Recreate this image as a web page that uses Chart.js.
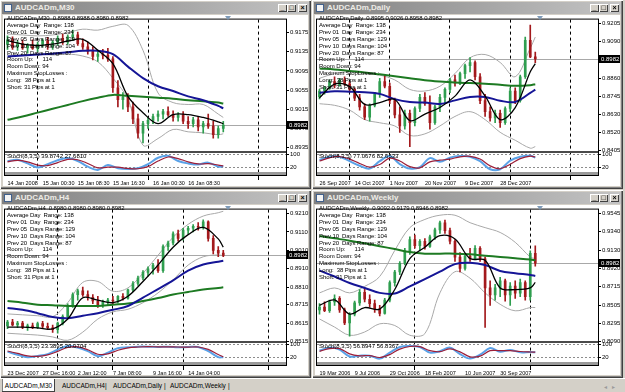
<!DOCTYPE html>
<html>
<head>
<meta charset="utf-8">
<script src="https://cdn.jsdelivr.net/npm/chart.js@4.4.1/dist/chart.umd.min.js"></script>
<style>
  html, body { margin: 0; padding: 0; }
  body { width: 625px; height: 392px; background: #d4d0c8; position: relative; overflow: hidden;
         font-family: "Liberation Sans", Arial, sans-serif; }
  .win { position: absolute; background: #d4d0c8;
         box-shadow: inset 1px 1px #ffffff, inset -1px -1px #404040, inset -2px -2px #808080; }
  .client { position: absolute; left: 3px; right: 3px; top: 15px; bottom: 3px; background: #fff; }
  .title { position: absolute; left: 2px; right: 2px; top: 2px; height: 12px; box-sizing: border-box;
           background: linear-gradient(to right, #808080, #c4c4c4); color: #eeece6;
           font-weight: bold; font-size: 8px; line-height: 12px; padding-left: 13px; }
  .ico { position: absolute; left: 2px; top: 2px; width: 8px; height: 8px; box-sizing: border-box;
         background: #f4f4f4; border: 1px solid #40608c; }
  .btns { position: absolute; right: 2px; top: 2px; display: flex; }
  .btns i { display: block; width: 9px; height: 8px; background: #d4d0c8; font-style: normal; color: #000;
            box-shadow: inset 1px 1px #fff, inset -1px -1px #404040; font-size: 7px; line-height: 8px;
            text-align: center; font-weight: bold; }
  .btns i:last-child { margin-left: 2px; }
  canvas { position: absolute; left: 0; top: 15px; }
  .info { position: absolute; left: 7px; top: 15px; font-size: 6px; line-height: 6.9px; white-space: pre;
          color: #000; letter-spacing: -0.1px; }
  .stl { position: absolute; left: 7px; top: 153px; font-size: 6px; line-height: 6px; white-space: pre; color: #000; }
  .mark { position: absolute; left: 225px; top: 16px; width: 0; height: 0;
          border-left: 3px solid transparent; border-right: 3px solid transparent; border-top: 4px solid #7f9bb8; }
  #tabs { position: absolute; left: 0; top: 378px; width: 625px; height: 14px; background: #d4d0c8;
          border-top: 1px solid #ffffff; font-size: 6.5px; color: #000; }
  #tabs span { position: absolute; top: 0; line-height: 13px; white-space: pre; }
  #tabs .on { background: #fff; box-shadow: inset -1px -1px #404040, inset 1px 0 #808080; text-align: center; }
  #arrows { position: absolute; left: 604px; top: 383px; font-size: 6px; color: #9a9a9a; letter-spacing: 5px; }
</style>
</head>
<body>
<div id="desk"></div>
<div id="tabs">
  <span class="on" style="left:2px;width:53px">AUDCADm,M30</span>
  <span style="left:62px">AUDCADm,H4</span>
  <span style="left:105px">|</span>
  <span style="left:113px">AUDCADm,Daily</span>
  <span style="left:164px">|</span>
  <span style="left:170px">AUDCADm,Weekly</span>
  <span style="left:228px">|</span>
</div>
<div id="arrows">◂▸</div>
<script>
// ---- shared layout of the bars ----
const SLOTS = 56;                 // bar slots across the chart (last ones stay empty)
const lineAt = [0,3,6,9,12,15,18,21,24,27,30,33,36,39,42,43];
const stochAt = [0,2,4,6,8,10,12,14,16,18,20,22,24,26,28,30,32,34,36,38,40,42,43];
const timeAt = [0,7,14,21,29,36];
const stochLevels = [100, 20];
const lastPrice = 0.8982;

const infoLines = [
  'Average Day  Range: 138',
  'Prev 01  Day  Range: 234',
  'Prev 05  Days Range: 129',
  'Prev 10  Days Range: 104',
  'Prev 20  Days Range: 87',
  'Room Up:      114',
  'Room Down: 94',
  'Maximum StopLosses :',
  'Long:  38 Pips at 1',
  'Short: 31 Pips at 1'
];

// ---- M30 ----
const m30Open = [.9150,.9160,.9145,.9152,.9143,.9148,.9142,.9150,.9158,.9146,.9155,
  .9163,.9155,.9166,.9170,.9152,.9145,.9136,.9125,.9130,.9128,.9120,
  .9060,.9035,.9040,.9020,.8995,.8965,.8985,.8992,.9000,.9005,.9010,
  .9004,.8998,.9003,.8990,.8985,.8993,.8978,.8985,.8980,.8962,.8975];
const m30High = [.9168,.9166,.9158,.9160,.9152,.9160,.9155,.9162,.9165,.9158,.9168,
  .9172,.9170,.9180,.9176,.9162,.9155,.9145,.9138,.9140,.9142,.9125,
  .9075,.9050,.9048,.9030,.9005,.8990,.8998,.9005,.9012,.9015,.9020,
  .9012,.9008,.9010,.9000,.8998,.9000,.8990,.9005,.8990,.8980,.8990];
const m30Low = [.9140,.9140,.9138,.9140,.9132,.9140,.9135,.9145,.9140,.9140,.9148,
  .9150,.9150,.9158,.9148,.9140,.9130,.9118,.9115,.9120,.9115,.9050,
  .9020,.9015,.9010,.8985,.8955,.8945,.8975,.8985,.8990,.8995,.9000,
  .8990,.8990,.8985,.8975,.8978,.8970,.8965,.8975,.8955,.8955,.8968];
const m30Close = [.9160,.9145,.9152,.9143,.9148,.9142,.9150,.9158,.9146,.9155,.9163,
  .9155,.9166,.9170,.9152,.9145,.9136,.9125,.9130,.9128,.9120,.9060,
  .9035,.9040,.9020,.8995,.8965,.8985,.8992,.9000,.9005,.9010,.9004,
  .8998,.9003,.8990,.8985,.8993,.8978,.8985,.8980,.8962,.8975,.8982];
const m30Fast = [.9158,.9151,.9148,.9151,.9157,.9161,.9138,.9110,.9042,.9008,.8985,.9004,.9004,.8998,.8989,.8985];
const m30Mid = [.9125,.9127,.9129,.9131,.9134,.9137,.9137,.9130,.9104,.9080,.9063,.9053,.9042,.9034,.9022,.9017];
const m30Slow = [.8993,.9000,.9008,.9016,.9024,.9032,.9039,.9045,.9043,.9041,.9039,.9037,.9034,.9032,.9029,.9027];
const m30BandUp = [.9172,.9170,.9168,.9170,.9175,.9182,.9180,.9188,.9190,.9138,.9049,.9029,.9025,.9025,.9005,.8998];
const m30BandLow = [.9128,.9128,.9130,.9128,.9130,.9126,.9114,.9080,.9036,.8940,.8954,.8973,.8968,.8966,.8962,.8964];
const m30StochK = [60,68,45,20,40,65,78,60,25,5,35,15,10,15,40,80,92,60,45,38,50,25,27];
const m30StochD = [55,64,55,35,32,50,70,68,45,18,22,22,14,12,25,60,85,75,55,42,44,35,30];
const m30PriceTicks = [.9175,.9135,.9095,.9055,.9015,.8975,.8935];
const m30TimeLabels = ['14 Jan 2008','15 Jan 00:30','15 Jan 08:30','15 Jan 16:30','16 Jan 00:30','16 Jan 08:30'];
const m30Separators = [6,28,50];

// ---- Daily ----
const dailyOpen = [.8745,.8780,.8800,.8840,.8815,.8850,.8825,.8790,.8735,.8680,.8615,
  .8690,.8760,.8840,.8810,.8720,.8630,.8560,.8640,.8580,.8670,.8740,
  .8700,.8580,.8680,.8740,.8790,.8850,.8830,.8890,.8940,.8960,.8870,
  .8720,.8650,.8610,.8640,.8580,.8670,.8780,.8720,.8870,.9100,.8995];
const dailyHigh = [.8790,.8810,.8850,.8870,.8860,.8870,.8840,.8800,.8760,.8700,.8700,
  .8770,.8860,.8880,.8830,.8735,.8680,.8660,.8660,.8680,.8760,.8770,
  .8750,.8690,.8760,.8800,.8860,.8880,.8900,.8950,.8990,.8970,.8890,
  .8760,.8680,.8660,.8660,.8680,.8800,.8800,.8880,.9120,.9195,.9026];
const dailyLow = [.8730,.8760,.8790,.8800,.8810,.8815,.8775,.8720,.8660,.8600,.8590,
  .8680,.8740,.8800,.8700,.8610,.8520,.8540,.8430,.8560,.8650,.8690,
  .8540,.8570,.8650,.8700,.8770,.8810,.8820,.8860,.8900,.8850,.8700,
  .8620,.8590,.8580,.8550,.8570,.8650,.8700,.8710,.8860,.8990,.8958];
const dailyClose = [.8780,.8800,.8840,.8815,.8850,.8825,.8790,.8735,.8680,.8615,.8690,
  .8760,.8840,.8810,.8720,.8630,.8560,.8640,.8580,.8670,.8740,.8700,
  .8580,.8680,.8740,.8790,.8850,.8830,.8890,.8940,.8960,.8870,.8720,
  .8650,.8610,.8640,.8580,.8670,.8780,.8720,.8870,.9100,.8995,.8982];
const dailyFast = [.8737,.8824,.8809,.8696,.8707,.8727,.8594,.8635,.8676,.8748,.8850,.8748,.8600,.8676,.8901,.8953];
const dailyMid = [.8768,.8778,.8776,.8772,.8762,.8729,.8711,.8707,.8698,.8721,.8743,.8743,.8719,.8711,.8768,.8789];
const dailySlow = [.8922,.8916,.8906,.8897,.8885,.8873,.8860,.8848,.8840,.8834,.8830,.8826,.8819,.8813,.8817,.8823];
const dailyBandUp = [.8860,.8890,.8900,.8890,.8880,.8850,.8790,.8780,.8810,.8890,.8990,.9010,.8960,.8870,.9050,.9120];
const dailyBandLow = [.8700,.8690,.8660,.8600,.8580,.8560,.8500,.8510,.8560,.8620,.8650,.8600,.8520,.8470,.8420,.8430];
const dailyStochK = [67,87,87,59,31,13,59,91,41,13,22,78,56,81,91,87,59,9,9,63,87,93,81];
const dailyStochD = [60,80,88,72,45,22,38,78,60,25,18,55,65,72,86,89,72,30,12,40,75,90,85];
const dailyPriceTicks = [.9205,.9090,.8975,.8860,.8745,.8630,.8520,.8405];
const dailyTimeLabels = ['26 Sep 2007','14 Oct 2007','1 Nov 2007','20 Nov 2007','9 Dec 2007','28 Dec 2007'];
const dailySeparators = [6,14,26,38,50];

// ---- H4 ----
const h4Open = [.8600,.8620,.8605,.8615,.8595,.8600,.8590,.8612,.8598,.8590,.8580,
  .8615,.8650,.8710,.8770,.8790,.8770,.8755,.8735,.8715,.8730,.8740,
  .8735,.8760,.8750,.8795,.8830,.8860,.8890,.8910,.8930,.8900,.9030,
  .9050,.9100,.9075,.9120,.9130,.9140,.9135,.9165,.9075,.9010,.8995];
const h4High = [.8630,.8635,.8625,.8625,.8610,.8615,.8620,.8625,.8615,.8605,.8620,
  .8660,.8720,.8780,.8800,.8810,.8790,.8770,.8760,.8740,.8750,.8760,
  .8765,.8775,.8800,.8840,.8870,.8900,.8920,.8940,.8960,.9040,.9060,
  .9110,.9120,.9130,.9140,.9150,.9160,.9175,.9170,.9090,.9030,.9010];
const h4Low = [.8585,.8600,.8590,.8585,.8575,.8585,.8585,.8590,.8580,.8565,.8560,
  .8605,.8640,.8700,.8740,.8760,.8740,.8720,.8700,.8700,.8715,.8720,
  .8725,.8740,.8745,.8785,.8820,.8850,.8870,.8880,.8890,.8890,.9010,
  .9040,.9060,.9065,.9100,.9110,.9120,.9125,.9060,.8990,.8975,.8975];
const h4Close = [.8620,.8605,.8615,.8595,.8600,.8590,.8612,.8598,.8590,.8580,.8615,
  .8650,.8710,.8770,.8790,.8770,.8755,.8735,.8715,.8730,.8740,.8735,
  .8760,.8750,.8795,.8830,.8860,.8890,.8910,.8930,.8900,.9030,.9050,
  .9100,.9075,.9120,.9130,.9140,.9135,.9165,.9075,.9010,.8995,.8982];
const h4Fast = [.8593,.8593,.8589,.8584,.8637,.8753,.8740,.8726,.8761,.8841,.8930,.9027,.9095,.9134,.9072,.9027];
const h4Mid = [.8697,.8687,.8669,.8648,.8641,.8655,.8669,.8687,.8708,.8753,.8800,.8847,.8900,.8933,.8948,.8953];
const h4Slow = [.8735,.8726,.8715,.8712,.8708,.8708,.8708,.8715,.8721,.8735,.8751,.8770,.8784,.8797,.8806,.8809];
const h4BandUp = [.8665,.8660,.8655,.8650,.8726,.8836,.8841,.8788,.8806,.8886,.8983,.9081,.9151,.9196,.9214,.9222];
const h4BandLow = [.8560,.8555,.8550,.8540,.8522,.8566,.8637,.8676,.8690,.8726,.8779,.8850,.8930,.8975,.8985,.8980];
const h4StochK = [56,37,22,30,41,69,91,81,59,28,50,78,83,87,87,85,87,83,85,85,59,22,22];
const h4StochD = [60,45,30,27,36,58,82,86,68,40,42,65,80,85,87,86,86,85,84,85,70,38,24];
const h4PriceTicks = [.9210,.9110,.9010,.8910,.8810,.8715,.8615,.8515];
const h4TimeLabels = ['23 Dec 2007','27 Dec 16:00','2 Jan 12:00','7 Jan 08:00','9 Jan 16:00','14 Jan 04:00'];
const h4Separators = [10,21,35,52];

// ---- Weekly ----
const weeklyOpen = [.8450,.8480,.8440,.8540,.8580,.8450,.8300,.8400,.8530,.8650,.8570,
  .8520,.8460,.8410,.8560,.8760,.8880,.8980,.9120,.9250,.9180,.9230,
  .9170,.9280,.9360,.9440,.9350,.9230,.9050,.8920,.9060,.9030,.9150,
  .9030,.8700,.8620,.8700,.8780,.8620,.8720,.8640,.8760,.8600,.9092];
const weeklyHigh = [.8520,.8540,.8560,.8620,.8600,.8470,.8420,.8550,.8680,.8700,.8620,
  .8560,.8500,.8580,.8780,.8900,.9000,.9150,.9280,.9300,.9250,.9260,
  .9300,.9380,.9460,.9470,.9380,.9250,.9100,.9080,.9150,.9180,.9170,
  .9050,.8780,.8740,.8820,.8800,.8760,.8780,.8800,.8780,.9120,.9179];
const weeklyLow = [.8400,.8430,.8420,.8500,.8420,.8280,.8150,.8380,.8500,.8540,.8480,
  .8420,.8380,.8400,.8540,.8720,.8850,.8960,.9080,.9150,.9120,.9140,
  .9160,.9250,.9320,.9320,.9200,.9000,.8880,.8900,.9000,.9020,.9000,
  .8250,.8500,.8560,.8600,.8550,.8500,.8580,.8600,.8560,.8560,.8946];
const weeklyClose = [.8480,.8440,.8540,.8580,.8450,.8300,.8400,.8530,.8650,.8570,.8520,
  .8460,.8410,.8560,.8760,.8880,.8980,.9120,.9250,.9180,.9230,.9170,
  .9280,.9360,.9440,.9350,.9230,.9050,.8920,.9060,.9030,.9150,.9030,
  .8700,.8620,.8700,.8780,.8620,.8720,.8640,.8760,.8600,.9092,.8982];
const weeklyFast = [.8502,.8562,.8402,.8476,.8458,.8681,.9033,.9163,.9293,.9256,.9033,.9014,.8699,.8681,.8699,.8762];
const weeklyMid = [.8896,.8829,.8755,.8699,.8643,.8636,.8717,.8799,.8884,.8970,.8985,.8959,.8892,.8866,.8847,.8836];
const weeklySlow = [.9289,.9263,.9237,.9207,.9174,.9141,.9107,.9089,.9089,.9089,.9081,.9066,.9052,.9037,.9022,.9014];
const weeklyBandUp = [.8643,.8699,.8643,.8717,.8829,.9126,.9385,.9478,.9526,.9526,.9441,.9385,.9330,.9218,.9051,.9033];
const weeklyBandLow = [.8346,.8254,.8161,.8198,.8291,.8272,.8161,.8180,.8643,.8884,.8810,.8643,.8513,.8439,.8476,.8476];
const weeklyStochK = [63,81,69,26,31,31,13,50,85,91,85,50,59,81,41,13,37,78,56,67,52,54,52];
const weeklyStochD = [58,75,75,42,30,32,20,38,72,88,87,62,56,73,55,24,28,62,62,62,57,54,53];
const weeklyPriceTicks = [.9545,.9340,.9130,.8920,.8715,.8505,.8295,.8090];
const weeklyTimeLabels = ['19 Mar 2006','9 Jul 2006','29 Oct 2006','18 Feb 2007','10 Jun 2007','30 Sep 2007'];
const weeklySeparators = [19,42];

const UP = '#2f9e4f';
const DOWN = '#a3191c';

const panels = [
  { title: 'AUDCADm,M30', left: 0, top: 0, height: 189,
    head: 'AUDCADm,M30  0.8988 0.8988 0.8980 0.8982', stoch: 'Stoch(8,3,5) 39.8742 27.6810',
    open: m30Open, high: m30High, low: m30Low, close: m30Close,
    fast: m30Fast, mid: m30Mid, slow: m30Slow, up: m30BandUp, down: m30BandLow,
    k: m30StochK, d: m30StochD, ticks: m30PriceTicks, min: .8925, max: .9202,
    times: m30TimeLabels, seps: m30Separators },
  { title: 'AUDCADm,Daily', left: 312, top: 0, height: 189,
    head: 'AUDCADm,Daily  0.8995 0.9026 0.8958 0.8982', stoch: 'Stoch(8,3,5) 77.0676 82.6533',
    open: dailyOpen, high: dailyHigh, low: dailyLow, close: dailyClose,
    fast: dailyFast, mid: dailyMid, slow: dailySlow, up: dailyBandUp, down: dailyBandLow,
    k: dailyStochK, d: dailyStochD, ticks: dailyPriceTicks, min: .8393, max: .9230,
    times: dailyTimeLabels, seps: dailySeparators },
  { title: 'AUDCADm,H4', left: 0, top: 190, height: 188,
    head: 'AUDCADm,H4  0.8980 0.8980 0.8980 0.8982', stoch: 'Stoch(8,3,5) 23.3895 20.0704',
    open: h4Open, high: h4High, low: h4Low, close: h4Close,
    fast: h4Fast, mid: h4Mid, slow: h4Slow, up: h4BandUp, down: h4BandLow,
    k: h4StochK, d: h4StochD, ticks: h4PriceTicks, min: .8510, max: .9231,
    times: h4TimeLabels, seps: h4Separators },
  { title: 'AUDCADm,Weekly', left: 312, top: 190, height: 188,
    head: 'AUDCADm,Weekly  0.9092 0.9179 0.8946 0.8982', stoch: 'Stoch(8,3,5) 56.8947 56.8367',
    open: weeklyOpen, high: weeklyHigh, low: weeklyLow, close: weeklyClose,
    fast: weeklyFast, mid: weeklyMid, slow: weeklySlow, up: weeklyBandUp, down: weeklyBandLow,
    k: weeklyStochK, d: weeklyStochD, ticks: weeklyPriceTicks, min: .8079, max: .9590,
    times: weeklyTimeLabels, seps: weeklySeparators }
];

Chart.defaults.font.family = '"Liberation Sans", Arial, sans-serif';
Chart.defaults.font.size = 6;
Chart.defaults.color = '#000';

// price line, pane frame, separator and last price box
const paneFrame = {
  id: 'paneFrame',
  beforeDatasetsDraw(chart, args, opts) {
    const { ctx, chartArea: a, scales } = chart;
    const py = Math.round(scales.y.getPixelForValue(opts.price)) + 0.5;
    ctx.save();
    ctx.strokeStyle = '#a8a8a8';
    ctx.lineWidth = 1;
    ctx.beginPath();
    ctx.moveTo(a.left, py);
    ctx.lineTo(a.right, py);
    ctx.stroke();
    ctx.restore();
  },
  afterDraw(chart, args, opts) {
    const { ctx, chartArea: a, scales } = chart;
    const w = a.right - a.left;
    const mid = Math.round(scales.y.bottom);
    ctx.save();
    ctx.fillStyle = '#9a9a9a';
    ctx.fillRect(a.left, a.bottom, w, 3);
    ctx.fillStyle = '#4a4a4a';
    ctx.fillRect(a.left, mid - 1, w, 2);
    ctx.strokeStyle = '#000';
    ctx.lineWidth = 1;
    ctx.strokeRect(a.left - 0.5, a.top - 0.5, w + 1, a.bottom - a.top + 4);
    const py = Math.round(scales.y.getPixelForValue(opts.price));
    ctx.fillStyle = '#000';
    ctx.fillRect(a.right + 1, py - 4, 21, 8);
    ctx.fillStyle = '#fff';
    ctx.font = '6px "Liberation Sans", Arial, sans-serif';
    ctx.textBaseline = 'middle';
    ctx.fillText(opts.price.toFixed(4), a.right + 3, py + 0.5);
    ctx.restore();
  }
};

function spread(values, at) {
  const out = new Array(SLOTS).fill(null);
  at.forEach((slot, j) => { out[slot] = values[j]; });
  return out;
}

function lineSet(values, at, color, width, order, axis) {
  return {
    type: 'line', data: spread(values, at), yAxisID: axis || 'y',
    borderColor: color, borderWidth: width, pointRadius: 0, spanGaps: true,
    tension: 0.35, order
  };
}

function drawPanel(p) {
  const win = document.createElement('div');
  win.className = 'win';
  win.style.left = p.left + 'px';
  win.style.top = p.top + 'px';
  win.style.width = '311px';
  win.style.height = p.height + 'px';
  win.innerHTML = `
    <div class="client"></div>
    <div class="title"><span class="ico"></span>${p.title}<div class="btns"><i>_</i><i>□</i><i>×</i></div></div>
    <canvas width="311" height="172"></canvas>
    <div class="info">${[p.head].concat(infoLines).join('\n')}</div>
    <div class="stl">${p.stoch}</div>
    <div class="mark"></div>
  `;
  document.getElementById('desk').appendChild(win);

  const labels = Array.from({ length: SLOTS }, (_, i) => i);
  const tickText = new Array(SLOTS).fill('');
  timeAt.forEach((slot, j) => { tickText[slot] = p.times[j]; });

  const isUp = p.open.map((o, i) => p.close[i] >= o);
  const barColor = ctx => (isUp[ctx.dataIndex] ? UP : DOWN);

  new Chart(win.querySelector('canvas'), {
    type: 'bar',
    data: {
      labels,
      datasets: [
        lineSet(p.up, lineAt, '#a9a9a9', 1, 12),
        lineSet(p.down, lineAt, '#a9a9a9', 1, 12),
        {
          data: p.high.map((h, i) => [p.low[i], h]), yAxisID: 'y',
          backgroundColor: barColor, barThickness: 1, grouped: false, order: 10
        },
        {
          data: p.open.map((o, i) => [Math.min(o, p.close[i]), Math.max(o, p.close[i])]), yAxisID: 'y',
          backgroundColor: barColor, barThickness: 2, minBarLength: 1, grouped: false, order: 9
        },
        lineSet(p.slow, lineAt, '#1d7a22', 2, 6),
        lineSet(p.mid, lineAt, '#151596', 2, 5),
        lineSet(p.fast, lineAt, '#000000', 1.3, 4),
        lineSet(p.k, stochAt, '#5aa2e8', 2, 3, 'ys'),
        lineSet(p.d, stochAt, '#9c1f3a', 1.2, 2, 'ys')
      ]
    },
    options: {
      responsive: false,
      animation: false,
      events: [],
      layout: { padding: { left: 5, top: 1, right: 0, bottom: 0 } },
      plugins: {
        legend: { display: false },
        tooltip: { enabled: false },
        paneFrame: { price: lastPrice }
      },
      scales: {
        x: {
          offset: true,
          afterFit: s => { s.height = 15; },
          grid: {
            offset: false,
            color: c => (p.seps.includes(c.index) ? '#000' : 'transparent'),
            tickColor: c => (p.seps.includes(c.index) ? '#000' : 'transparent'),
            tickLength: 8,
            tickBorderDash: [1, 0]
          },
          border: { display: false, dash: [3, 3] },
          ticks: {
            autoSkip: false, maxRotation: 0, minRotation: 0, align: 'start', padding: 0,
            font: { size: 5.5 },
            callback: (v, i) => tickText[i]
          }
        },
        y: {
          position: 'right', stack: 'pane', stackWeight: 136, weight: 1,
          min: p.min, max: p.max,
          afterFit: s => { s.width = 25; },
          afterBuildTicks: s => { s.ticks = p.ticks.map(v => ({ value: v })); },
          grid: { drawOnChartArea: false, tickLength: 3, tickColor: '#000' },
          border: { color: '#000' },
          ticks: { padding: 1, callback: v => v.toFixed(4) }
        },
        ys: {
          position: 'right', stack: 'pane', stackWeight: 20, weight: 2,
          min: -8, max: 113,
          afterFit: s => { s.width = 25; },
          afterBuildTicks: s => { s.ticks = stochLevels.map(v => ({ value: v })); },
          grid: { color: '#8c8c8c', tickLength: 3, tickColor: '#000', tickBorderDash: [1, 0] },
          border: { color: '#000', dash: [2, 2] },
          ticks: { padding: 1, callback: v => String(v) }
        }
      }
    },
    plugins: [paneFrame]
  });
}

document.addEventListener('DOMContentLoaded', () => {
  panels.forEach(drawPanel);
});
</script>
</body>
</html>
